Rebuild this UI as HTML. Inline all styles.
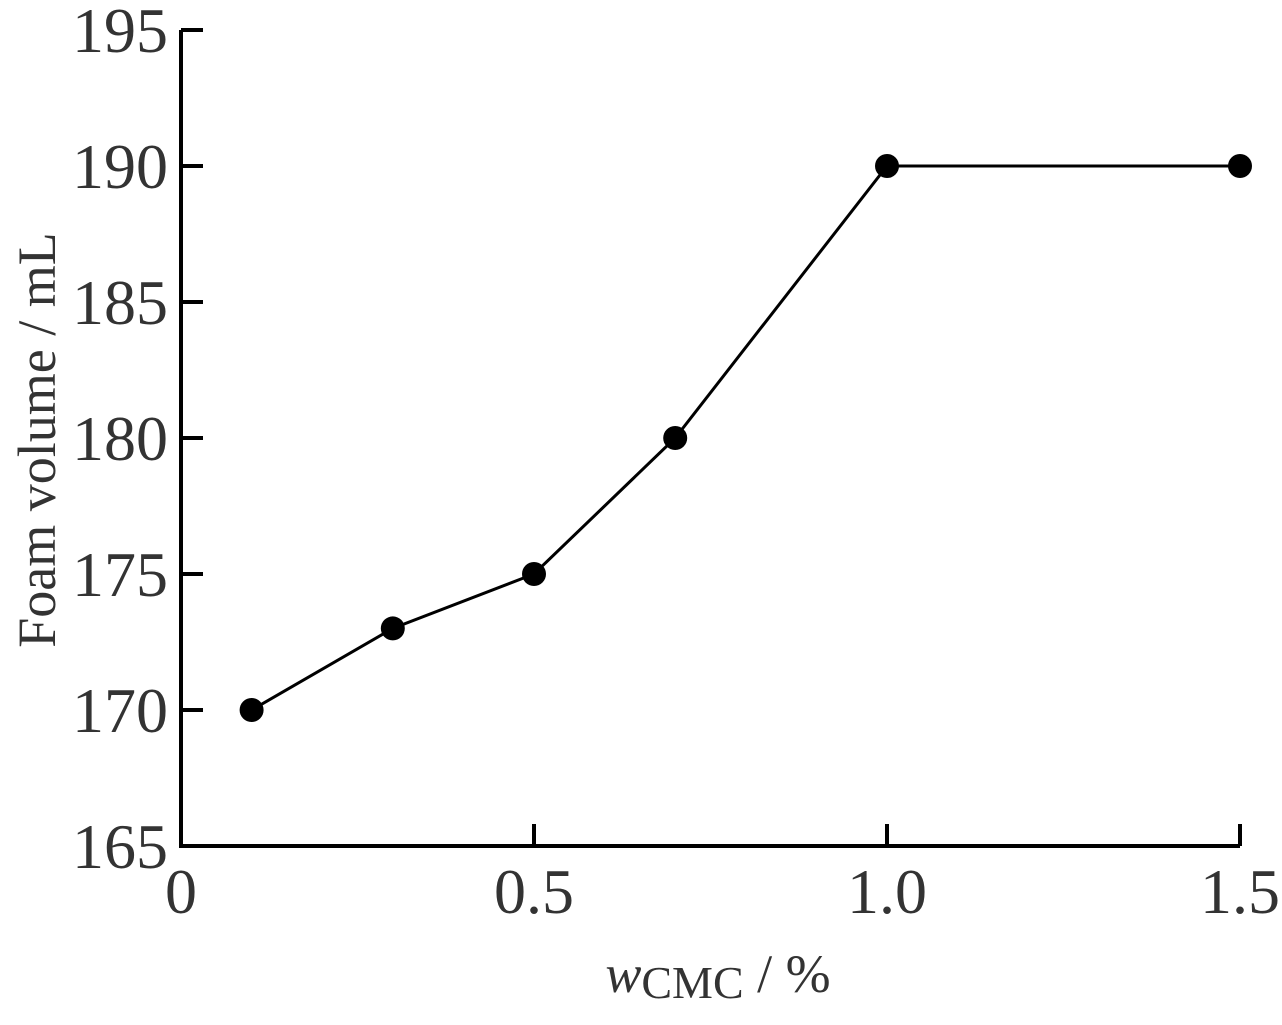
<!DOCTYPE html>
<html><head><meta charset="utf-8">
<style>
html,body{margin:0;padding:0;background:#fff;}
svg{display:block;}
text{font-family:"Liberation Serif",serif;fill:#333;}
</style></head>
<body>
<svg id="chart" width="1282" height="1025" viewBox="0 0 1282 1025" xmlns="http://www.w3.org/2000/svg">
<g id="axes"></g>
<g id="series"></g>
<text transform="translate(55,440) rotate(-90)" text-anchor="middle" font-size="54">Foam volume / mL</text>
<text x="718" y="992" text-anchor="middle" font-size="54"><tspan font-style="italic">w</tspan><tspan font-size="46" dy="6">CMC</tspan><tspan dy="-6"> / %</tspan></text>
</svg>
<script>
const xValues = [0.1, 0.3, 0.5, 0.7, 1.0, 1.5];
const yValues = [170, 173, 175, 180, 190, 190];
const xTicks = [0, 0.5, 1.0, 1.5];
const xTickLabels = ["0", "0.5", "1.0", "1.5"];
const yTicks = [165, 170, 175, 180, 185, 190, 195];
const yTickLabels = ["165", "170", "175", "180", "185", "190", "195"];

const NS = "http://www.w3.org/2000/svg";
const x0 = 181, x1 = 1240, xMin = 0, xMax = 1.5;
const y0 = 846, y1 = 30, yMin = 165, yMax = 195;
const sx = v => x0 + (v - xMin) / (xMax - xMin) * (x1 - x0);
const sy = v => y0 - (v - yMin) / (yMax - yMin) * (y0 - y1);
const axes = document.getElementById('axes');
const series = document.getElementById('series');
function mk(tag, attrs, parent){const e=document.createElementNS(NS,tag);for(const k in attrs)e.setAttribute(k,attrs[k]);parent.appendChild(e);return e;}

let ax = mk('path',{d:`M${x0},${y1} V${y0} H${x1}`,fill:'none',stroke:'#000','stroke-width':4},axes);



yTicks.forEach((t,i)=>{
  const y = sy(t);
  const l = mk('line',{x1:x0,x2:x0+22,y1:y,y2:y,stroke:'#000','stroke-width':4},axes);
  
  
  const tx = mk('text',{x:168,y:y+22,'text-anchor':'end','font-size':64},axes);
  
  
  tx.textContent = yTickLabels[i];
});
xTicks.forEach((t,i)=>{
  const x = sx(t);
  if (t !== xMin) {
    const l = mk('line',{x1:x,x2:x,y1:y0,y2:y0-22,stroke:'#000','stroke-width':4},axes);
    
    
  }
  const tx = mk('text',{x:x,y:y0+67,'text-anchor':'middle','font-size':64},axes);
  
  
  tx.textContent = xTickLabels[i];
});

const pts = xValues.map((v,i)=>sx(v)+','+sy(yValues[i])).join(' ');
const line = mk('polyline',{points:pts,fill:'none',stroke:'#000','stroke-width':3},series);


xValues.forEach((v,i)=>{
  const c = mk('circle',{cx:sx(v),cy:sy(yValues[i]),r:12,fill:'#000'},series);
  
  
});
</script>
</body></html>
